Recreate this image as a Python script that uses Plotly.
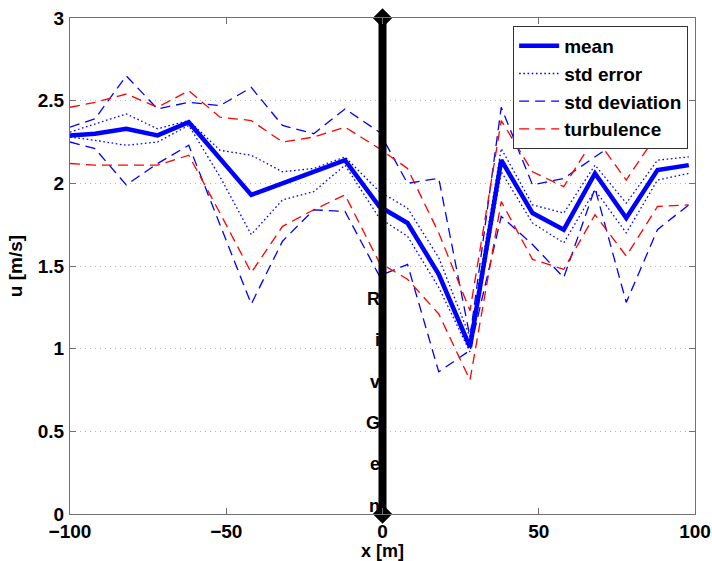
import plotly.graph_objects as go

# ---------------- data ----------------
x_pos = [-100, -92, -82, -72, -62, -52, -42, -32, -22, -12, -1, 8, 18, 28, 38, 48, 58, 68, 78, 88, 98]

mean = [2.29, 2.30, 2.33, 2.29, 2.37, 2.15, 1.93, 2.00, 2.07, 2.14, 1.86, 1.76, 1.45, 1.01,
        2.14, 1.82, 1.72, 2.06, 1.79, 2.08, 2.11]

stderr_hi = [2.31, 2.36, 2.42, 2.33, 2.38, 2.20, 2.17, 2.07, 2.09, 2.16, 1.95, 1.85, 1.55, 1.07,
             2.21, 1.87, 1.82, 2.11, 1.88, 2.14, 2.16]
stderr_lo = [2.28, 2.26, 2.23, 2.25, 2.35, 2.04, 1.69, 1.90, 1.95, 2.11, 1.79, 1.68, 1.37, 0.98,
             2.07, 1.76, 1.64, 1.96, 1.70, 2.02, 2.06]

std_hi = [2.34, 2.39, 2.65, 2.45, 2.49, 2.47, 2.58, 2.35, 2.30, 2.45, 2.31, 2.00, 2.03, 1.07,
          2.46, 1.99, 2.03, 2.16, 2.29, 2.42, 2.52]
std_lo = [2.25, 2.21, 1.99, 2.12, 2.23, 1.75, 1.27, 1.65, 1.84, 1.83, 1.44, 1.51, 0.86, 0.99,
          1.80, 1.63, 1.43, 1.97, 1.28, 1.72, 1.87]

turb_hi = [2.46, 2.49, 2.54, 2.46, 2.56, 2.40, 2.38, 2.25, 2.28, 2.34, 2.21, 2.09, 1.70, 1.23,
           2.38, 2.07, 1.98, 2.28, 2.02, 2.30, 2.38]
turb_lo = [2.12, 2.11, 2.11, 2.11, 2.17, 1.82, 1.46, 1.74, 1.84, 1.93, 1.52, 1.42, 1.21, 0.81,
           1.89, 1.54, 1.48, 1.81, 1.56, 1.86, 1.87]

site_x = [0, 0]
site_y = [0, 3]
site_label = "RivGen"

x_ticks = [-100, -50, 0, 50, 100]
y_ticks = [0, 0.5, 1, 1.5, 2, 2.5, 3]
x_title = "x [m]"
y_title = "u [m/s]"

# ---------------- figure ----------------
FONT = "Liberation Sans, Arial, Helvetica, sans-serif"
BLUE = "#0000ff"
RED = "#ff0000"
DASH = "10px,6px"
DOT = "1.6px,2.6px"
FS = 19
AXC = "#707070"

fig = go.Figure()

pairs = [
    ("std error", stderr_hi, stderr_lo, BLUE, DOT, 2),
    ("std deviation", std_hi, std_lo, BLUE, DASH, 3),
    ("turbulence", turb_hi, turb_lo, RED, DASH, 4),
]
for name, hi, lo, col, dash, rank in pairs:
    for i, ys in enumerate((hi, lo)):
        fig.add_trace(go.Scatter(
            x=x_pos, y=ys, mode="lines", name=name, legendgroup=name,
            showlegend=(i == 0), legendrank=rank,
            line=dict(color=col, width=1.3, dash=dash)))

fig.add_trace(go.Scatter(
    x=x_pos, y=mean, mode="lines", name="mean", legendrank=1,
    line=dict(color=BLUE, width=4.5)))

fig.add_trace(go.Scatter(
    x=site_x, y=site_y, mode="lines+markers", showlegend=False,
    line=dict(color="black", width=8),
    marker=dict(symbol="diamond", size=15, color="black"),
    cliponaxis=False))

for i, ch in enumerate(site_label):
    fig.add_annotation(x=0, y=1.30 - 0.25 * i, text=ch, showarrow=False,
                       xanchor="right", yanchor="middle", xshift=-1,
                       font=dict(family=FONT, size=FS - 1, color="black", weight="bold"))

# x-axis title as annotation (placed at bottom edge of the figure)
fig.add_annotation(x=0.5, xref="paper", y=0, yref="paper", yshift=-48,
                   text=x_title, showarrow=False, xanchor="center", yanchor="bottom",
                   borderpad=0,
                   font=dict(family=FONT, size=FS - 1, color="black", weight="bold"))

axis_common = dict(
    showline=True, mirror="ticks", linecolor=AXC, linewidth=1,
    ticks="inside", ticklen=6, tickcolor=AXC,
    tickfont=dict(family=FONT, size=FS, color="black", weight="bold"),
    zeroline=False, automargin=False,
)

fig.update_xaxes(range=[-100, 100], tickvals=x_ticks,
                 ticktext=[str(v).replace("-", "\u2212") for v in x_ticks],
                 showgrid=False, ticklabelstandoff=0,
                 **axis_common)
fig.update_yaxes(range=[0, 3], tickvals=y_ticks,
                 ticktext=[f"{v:g}" for v in y_ticks],
                 showgrid=True, gridcolor="#b8b8b8", griddash="1px,4px", gridwidth=1,
                 ticklabelstandoff=1,
                 title=dict(text=y_title, standoff=10,
                            font=dict(family=FONT, size=FS, color="black", weight="bold")),
                 **axis_common)

fig.update_layout(
    width=712, height=561,
    margin=dict(l=70, r=17, t=18, b=47),
    paper_bgcolor="white", plot_bgcolor="white",
    font=dict(family=FONT, color="black"),
    legend=dict(x=0.989, y=0.984, xanchor="right", yanchor="top",
                bgcolor="white", bordercolor="#333333", borderwidth=1,
                font=dict(family=FONT, size=FS, color="black", weight="bold"),
                traceorder="normal", tracegroupgap=0, itemwidth=40),
)

fig.write_html("out.html")
